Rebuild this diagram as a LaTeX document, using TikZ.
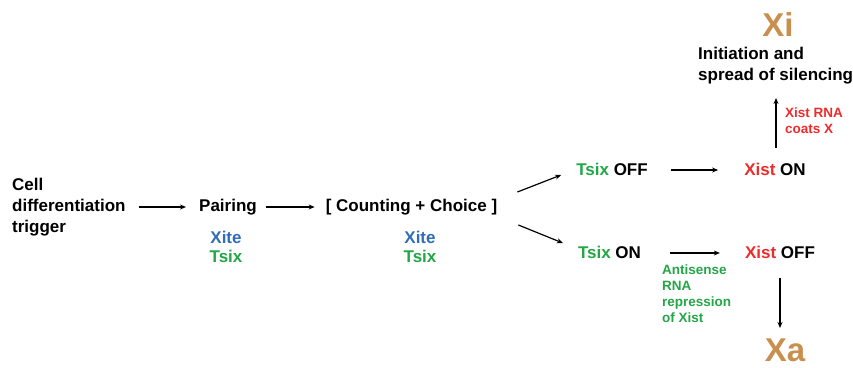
\documentclass[tikz,border=0pt]{standalone}
\usepackage{fontspec}
\setmainfont{Liberation Sans}
\usetikzlibrary{arrows.meta}
\definecolor{cblue}{HTML}{2F6DB8}
\definecolor{cgreen}{HTML}{23A646}
\definecolor{cred}{HTML}{EE2B2B}
\definecolor{ctan}{HTML}{C98F4E}
\tikzset{
  lbl/.style={inner sep=0pt, font=\fontsize{17}{21}\selectfont\bfseries},
  small/.style={inner sep=0pt, font=\fontsize{13.5}{16}\selectfont\bfseries, align=left, anchor=west},
  big/.style={inner sep=0pt, font=\fontsize{33}{36}\selectfont\bfseries, text=ctan},
  arr/.style={-{Stealth[length=6pt,width=5pt]}, line width=1.2pt}
}
\begin{document}
\begin{tikzpicture}[x=1pt,y=-1pt]
\useasboundingbox (0,0) rectangle (853,367);
\node[lbl, align=left, anchor=west] (cell) at (12,207) {Cell\\differentiation\\trigger};
\node[lbl] (pairing) at (228,207) {Pairing};
\node[lbl] (counting) at (411.5,207) {[ Counting + Choice ]};
\node[lbl, align=center] (x1) at (226,247) {\textcolor{cblue}{Xite}\\[-2pt]\textcolor{cgreen}{Tsix}};
\node[lbl, align=center] (x2) at (420,247) {\textcolor{cblue}{Xite}\\[-2pt]\textcolor{cgreen}{Tsix}};
\node[lbl] (tsixoff) at (612,169) {\textcolor{cgreen}{Tsix} OFF};
\node[lbl] (xiston) at (775,169) {\textcolor{cred}{Xist} ON};
\node[lbl] (tsixon) at (609.5,252) {\textcolor{cgreen}{Tsix} ON};
\node[lbl] (xistoff) at (780,252) {\textcolor{cred}{Xist} OFF};
\node[big] (xi) at (778,25) {Xi};
\node[lbl, align=left, anchor=west] (init) at (698,66) {Initiation and\\spread of silencing};
\node[small, text=cred] (coats) at (785,121) {Xist RNA\\coats X};
\node[small, text=cgreen] (anti) at (662,294) {Antisense\\RNA\\repression\\of Xist};
\node[big] (xa) at (785,350) {Xa};
\draw[arr] ([xshift=13pt]cell.east) -- ([xshift=-13pt]pairing.west);
\draw[arr] ([xshift=9pt]pairing.east) -- ([xshift=-11pt]counting.west);
\draw[arr] ([xshift=20pt,yshift=15pt]counting.east) -- ([xshift=-15pt,yshift=-6pt]tsixoff.west);
\draw[arr] ([xshift=21pt,yshift=-18pt]counting.east) -- ([xshift=-15pt,yshift=9pt]tsixon.west);
\draw[arr] ([xshift=23pt,yshift=-1pt]tsixoff.east) -- ([xshift=-26pt,yshift=-1pt]xiston.west);
\draw[arr] ([xshift=29pt,yshift=-1pt]tsixon.east) -- ([xshift=-25pt,yshift=-1pt]xistoff.west);
\draw[arr] ([xshift=1pt,yshift=21pt]xiston.center) -- ([xshift=78pt,yshift=-32pt]init.west);
\draw[arr] ([yshift=-26pt]xistoff.center) -- ([xshift=-5pt,yshift=22pt]xa.center);
\end{tikzpicture}
\end{document}
